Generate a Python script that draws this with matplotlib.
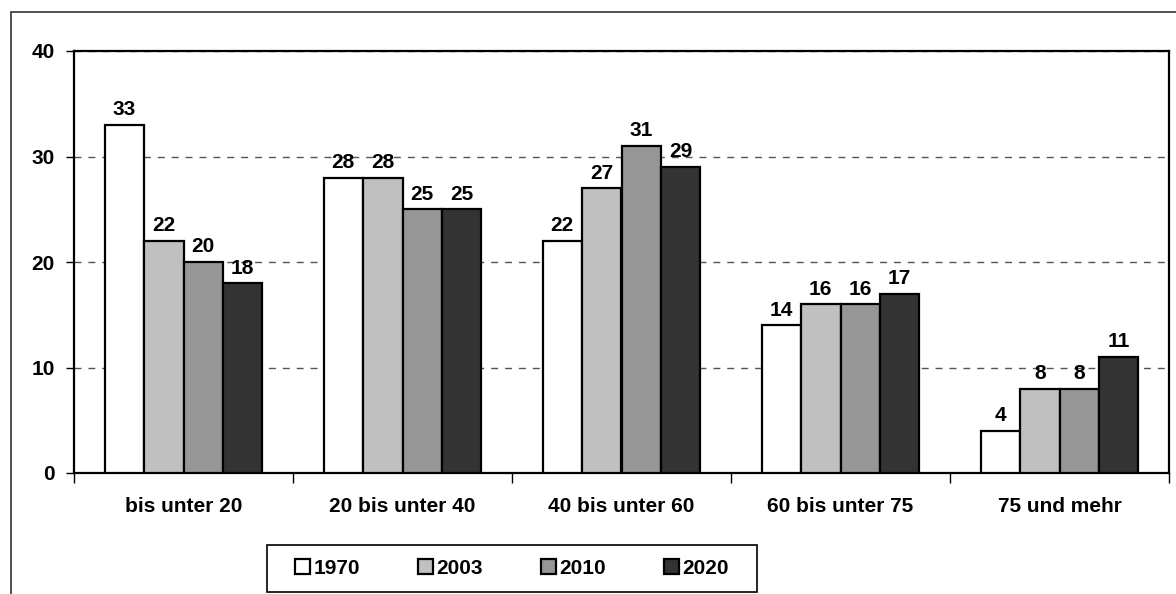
import numpy as np
import matplotlib.pyplot as plt
from matplotlib.patches import Rectangle

plt.rcParams['font.family'] = ['Liberation Sans', 'DejaVu Sans']
plt.rcParams['font.weight'] = 'bold'

# Altersgruppen und Anteile in Prozent
gruppen = ["bis unter 20", "20 bis unter 40", "40 bis unter 60", "60 bis unter 75", "75 und mehr"]
jahre = ["1970", "2003", "2010", "2020"]
w1970 = [33, 28, 22, 14, 4]
w2003 = [22, 28, 27, 16, 8]
w2010 = [20, 25, 31, 16, 8]
w2020 = [18, 25, 29, 17, 11]
serien = [w1970, w2003, w2010, w2020]
farben = ["#ffffff", "#c0c0c0", "#969696", "#333333"]

FS = 15

fig = plt.figure(figsize=(11.76, 5.94), dpi=100)
ax = fig.add_axes([74 / 1176, 1 - 473 / 594, 1095 / 1176, 422 / 594])

# Rahmen um die ganze Grafik (rechts und unten abgeschnitten)
fig.patches.append(Rectangle((11 / 1176, -0.05), 1.1, 1 - 12 / 594 + 0.05,
                             transform=fig.transFigure, fill=False,
                             edgecolor="#333333", linewidth=1.2, zorder=0))

x = np.arange(len(gruppen))
breite = 0.18
for i, (werte, farbe, jahr) in enumerate(zip(serien, farben, jahre)):
    pos = x + (i - 1.5) * breite
    bars = ax.bar(pos, werte, breite, color=farbe, edgecolor="black",
                  linewidth=1.6, label=jahr, zorder=3)
    for b, v in zip(bars, werte):
        ax.annotate(str(v), (b.get_x() + b.get_width() / 2, v),
                    xytext=(0, 4), textcoords="offset points",
                    ha="center", va="bottom", fontsize=FS, fontweight="bold",
                    zorder=5)

ax.set_xlim(-0.5, len(gruppen) - 0.5)
ax.set_ylim(0, 40)
ax.set_yticks([0, 10, 20, 30, 40])
ax.yaxis.grid(True, linestyle=(0, (5, 5)), color="#555555", linewidth=1, zorder=1)
ax.set_axisbelow(True)

ax.set_xticks(np.arange(-0.5, len(gruppen), 1.0))
ax.set_xticklabels([])
ax.set_xticks(x, minor=True)
ax.set_xticklabels(gruppen, minor=True, fontsize=FS, fontweight="bold")
ax.tick_params(axis="x", which="minor", length=0, pad=17)
ax.tick_params(axis="x", which="major", length=7, width=1, direction="out")
ax.tick_params(axis="y", length=6, width=1, direction="out", labelsize=FS, pad=8)
for lbl in ax.get_yticklabels():
    lbl.set_fontweight("bold")
for s in ax.spines.values():
    s.set_linewidth(1.6)

# Legende mit eigenem Rahmen
x0, y0, bw, bh = 267 / 1176, 1 - 592 / 594, 490 / 1176, 47 / 594
fig.patches.append(Rectangle((x0, y0), bw, bh, transform=fig.transFigure,
                             fill=False, edgecolor="black", linewidth=1.2))
leg = fig.legend(loc="center", bbox_to_anchor=(x0 + bw / 2, y0 + bh / 2),
                 ncol=4, frameon=False, fontsize=FS,
                 handlelength=0.72, handleheight=0.72, handletextpad=0.15,
                 columnspacing=2.8)
for t in leg.get_texts():
    t.set_fontweight("bold")

fig.savefig("out.png", dpi=100)
